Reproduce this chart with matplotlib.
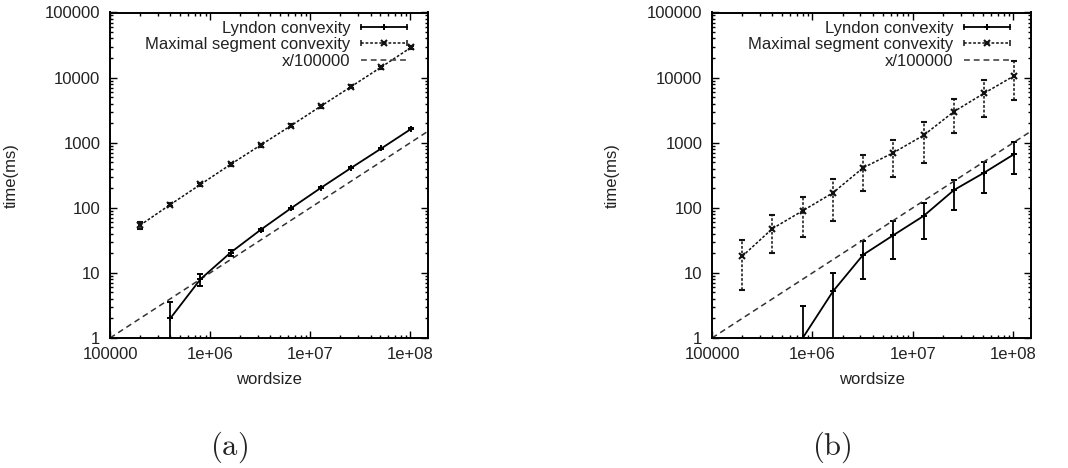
import numpy as np
import matplotlib
matplotlib.use("Agg")
import matplotlib.pyplot as plt
from matplotlib.lines import Line2D
from matplotlib.legend_handler import HandlerLine2D

plt.rcParams['font.family'] = ['Liberation Sans', 'DejaVu Sans']
plt.rcParams['mathtext.fontset'] = 'cm'

# =========================
# DATA
# =========================
word_sizes = [2e5, 4e5, 8e5, 1.6e6, 3.2e6, 6.4e6, 1.28e7, 2.56e7, 5.12e7, 1.024e8]

# panel (a)
lyndon_a_x = word_sizes[1:]
lyndon_a = [2.0, 8.0, 20.5, 46, 98, 203, 410, 815, 1640]
lyndon_a_lo = [0.5, 6.2, 18.5, 44, 95, 198, 402, 800, 1610]
lyndon_a_hi = [3.6, 9.7, 22.5, 48, 101, 208, 418, 830, 1670]

maximal_a_x = word_sizes
maximal_a = [54, 112, 228, 464, 920, 1820, 3650, 7270, 14500, 29300]
maximal_a_lo = [47, 105, 214, 440, 870, 1730, 3450, 6900, 13700, 27500]
maximal_a_hi = [60, 120, 242, 490, 970, 1910, 3850, 7650, 15300, 31000]

# panel (b)
lyndon_b_x = word_sizes[2:]
lyndon_b = [1.0, 5.2, 19, 38, 75, 187, 346, 670]
lyndon_b_lo = [0.5, 0.5, 8, 16.6, 33, 94, 170, 330]
lyndon_b_hi = [3.07, 10, 31, 63, 117, 268, 510, 1036]

maximal_b_x = word_sizes
maximal_b = [18, 48, 90, 170, 412, 702, 1300, 3000, 5750, 10700]
maximal_b_lo = [5.4, 20.5, 36, 63, 183, 300, 493, 1390, 2450, 4530]
maximal_b_hi = [32, 77, 148, 276, 646, 1100, 2080, 4700, 9200, 18000]

x_limits = [1e5, 1.5e8]
y_limits = [1, 1e5]
x_ticks = [1e5, 1e6, 1e7, 1e8]
x_ticklabels = ["100000", "1e+06", "1e+07", "1e+08"]
y_ticks = [1, 10, 100, 1000, 10000, 100000]
y_ticklabels = ["1", "10", "100", "1000", "10000", "100000"]

TXT = '#222222'
MAX_DASH = (1.8, 1.2)
REF_DASH = (3.8, 2.6)
MAX_MARKER = 'x'


# =========================
# ONE PANEL
# =========================
def draw_panel(ax, lx, ly, llo, lhi, mx, my, mlo, mhi):
    ly = np.array(ly)
    my = np.array(my)
    lerr = [ly - np.array(llo), np.array(lhi) - ly]
    merr = [my - np.array(mlo), np.array(mhi) - my]

    ax.errorbar(lx, ly, yerr=lerr, color='black', lw=1.3, elinewidth=1.3,
                capsize=2, capthick=1.2, marker='+', ms=4, mew=1.4)

    ml, mcaps, mbars = ax.errorbar(mx, my, yerr=merr, color='#111111', lw=1.1,
                                   elinewidth=1.1, capsize=2, capthick=1.1,
                                   marker=MAX_MARKER, ms=4, mew=1.5)
    ml.set_dashes(MAX_DASH)
    mbars[0].set_linestyle((0, MAX_DASH))

    xs = np.array(x_limits)
    ax.plot(xs, xs / 1e5, color='#333333', lw=1.1, dashes=REF_DASH)

    ax.set_xscale('log')
    ax.set_yscale('log')
    ax.set_xlim(x_limits)
    ax.set_ylim(y_limits)
    ax.set_xticks(x_ticks)
    ax.set_xticklabels(x_ticklabels)
    ax.set_yticks(y_ticks)
    ax.set_yticklabels(y_ticklabels)

    ax.tick_params(which='both', direction='in', top=True, right=True,
                   labelsize=12, labelcolor=TXT, width=1.0)
    ax.tick_params(which='major', length=5)
    ax.tick_params(which='minor', length=2.5)
    ax.tick_params(axis='y', pad=7)
    ax.tick_params(axis='x', pad=6.5)
    for s in ax.spines.values():
        s.set_linewidth(1.4)

    ax.set_xlabel("wordsize", fontsize=12, color=TXT, labelpad=7)
    ax.set_ylabel("time(ms)", fontsize=12, color=TXT)
    ax.yaxis.set_label_coords(-0.288, 0.5)

    # gnuplot-like legend keys: |--+--|
    lyn_caps = Line2D([], [], color='black', lw=1.3, marker='|', ms=5, mew=1.2)
    lyn_mid = Line2D([], [], color='black', ls='none', marker='+', ms=4, mew=1.4)
    max_caps = Line2D([], [], color='#111111', lw=1.1, dashes=MAX_DASH,
                      marker='|', ms=5, mew=1.1)
    max_mid = Line2D([], [], color='#111111', ls='none', marker=MAX_MARKER,
                     ms=4, mew=1.5)
    ref_line = Line2D([], [], color='#333333', lw=1.1, dashes=REF_DASH)

    hmap = {lyn_caps: HandlerLine2D(numpoints=2, marker_pad=0),
            max_caps: HandlerLine2D(numpoints=2, marker_pad=0),
            lyn_mid: HandlerLine2D(numpoints=1),
            max_mid: HandlerLine2D(numpoints=1)}

    leg = ax.legend([(lyn_caps, lyn_mid), (max_caps, max_mid), ref_line],
                    ["Lyndon convexity", "Maximal segment convexity", "x/100000"],
                    handler_map=hmap, loc='upper right',
                    bbox_to_anchor=(0.934, 0.975), frameon=False,
                    markerfirst=False, fontsize=12, handlelength=2.75,
                    handletextpad=0.65, labelspacing=0.1, borderpad=0,
                    borderaxespad=0)
    for t in leg.get_texts():
        t.set_color(TXT)


def main():
    fig = plt.figure(figsize=(10.68, 4.68), dpi=100)
    ax_a = fig.add_axes([110 / 1068, 1 - 338 / 468, 318 / 1068, 325.5 / 468])
    ax_b = fig.add_axes([712 / 1068, 1 - 338 / 468, 319 / 1068, 325.5 / 468])

    draw_panel(ax_a, lyndon_a_x, lyndon_a, lyndon_a_lo, lyndon_a_hi,
               maximal_a_x, maximal_a, maximal_a_lo, maximal_a_hi)
    draw_panel(ax_b, lyndon_b_x, lyndon_b, lyndon_b_lo, lyndon_b_hi,
               maximal_b_x, maximal_b, maximal_b_lo, maximal_b_hi)

    fig.text(229 / 1068, 1 - 447 / 468, r'$\mathrm{(a)}$', fontsize=22,
             ha='center', va='center', color=TXT)
    fig.text(832 / 1068, 1 - 447 / 468, r'$\mathrm{(b)}$', fontsize=22,
             ha='center', va='center', color=TXT)

    fig.savefig("out.png", dpi=100)


if __name__ == "__main__":
    main()
